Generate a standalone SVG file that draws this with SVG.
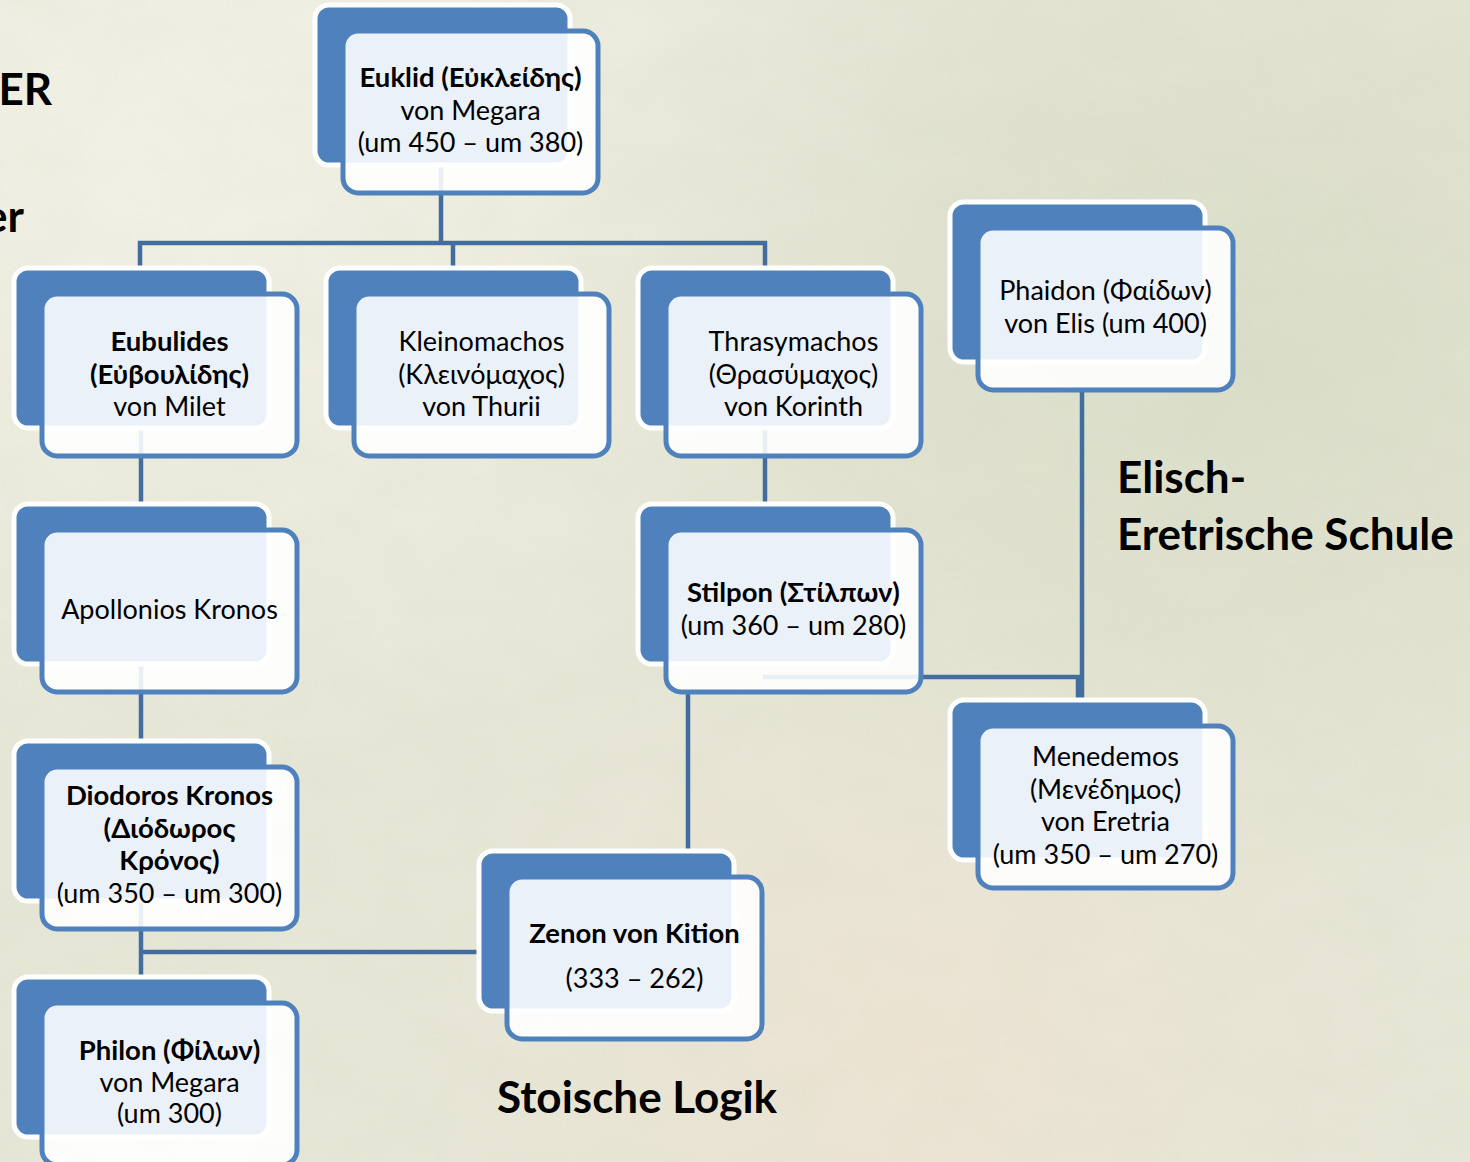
<svg xmlns="http://www.w3.org/2000/svg" width="1470" height="1162" viewBox="0 0 1470 1162">
  <defs>
    <radialGradient id="bgWarm" cx="0.12" cy="0.12" r="0.55">
      <stop offset="0" stop-color="#F3F2E7" stop-opacity="1"/>
      <stop offset="1" stop-color="#F3F2E7" stop-opacity="0"/>
    </radialGradient>
    <radialGradient id="bgGreen" cx="0.85" cy="0.3" r="0.5">
      <stop offset="0" stop-color="#D9DDC7" stop-opacity="0.9"/>
      <stop offset="1" stop-color="#D9DDC7" stop-opacity="0"/>
    </radialGradient>
    <radialGradient id="bgBlush" cx="0.62" cy="0.9" r="0.35">
      <stop offset="0" stop-color="#EFE3D3" stop-opacity="0.8"/>
      <stop offset="1" stop-color="#EFE3D3" stop-opacity="0"/>
    </radialGradient>
    <filter id="mottle" x="0" y="0" width="100%" height="100%">
      <feTurbulence type="fractalNoise" baseFrequency="0.012 0.02" numOctaves="3" seed="7"/>
      <feColorMatrix type="matrix" values="0 0 0 0 0.55  0 0 0 0 0.58  0 0 0 0 0.45  0 0 0 0.35 -0.05"/>
    </filter>
    <style>
      .back { fill: #4F81BD; stroke: #FFFFFF; stroke-width: 5; }
      .front { fill: #FFFFFF; fill-opacity: 0.89; stroke: #4F81BD; stroke-width: 5; }
      .link { fill: none; stroke: #436C9F; stroke-width: 4.5; stroke-linejoin: miter; }
      text { font-family: Lato, "Open Sans", "Noto Sans", "DejaVu Sans", sans-serif; fill: #000000; }
      .lbl { font-size: 27px; text-anchor: middle; }
      .b { font-weight: bold; font-size: 27.5px; }
      .title { font-size: 44px; font-weight: bold; }
    </style>
  </defs>

  <!-- background -->
  <rect width="1470" height="1162" fill="#E7E7D7"/>
  <rect width="1470" height="1162" fill="url(#bgWarm)"/>
  <rect width="1470" height="1162" fill="url(#bgGreen)"/>
  <rect width="1470" height="1162" fill="url(#bgBlush)"/>
  <rect width="1470" height="1162" filter="url(#mottle)" opacity="0.35"/>

  <!-- side captions -->
  <text class="title" x="52" y="105" text-anchor="end">ER</text>
  <text class="title" x="24" y="232" text-anchor="end">er</text>
  <text class="title" x="1117" y="493">Elisch-</text>
  <text class="title" x="1117" y="550">Eretrische Schule</text>
  <text class="title" x="497" y="1113">Stoische Logik</text>

  <!-- connectors -->
  <g id="connectors">
    <path class="link" d="M441,163 V243"/>
    <path class="link" d="M140,270 V243 H765 V270"/>
    <path class="link" d="M453,243 V270"/>
    <path class="link" d="M141,427 V506"/>
    <path class="link" d="M141,663 V743"/>
    <path class="link" d="M141,900 V977"/>
    <path class="link" d="M141,952 H484"/>
    <path class="link" d="M765,427 V505"/>
    <path class="link" d="M688,692 V854"/>
    <path class="link" d="M763,677 H1078 V703"/>
    <path class="link" d="M1082,391 V703"/>
  </g>

  <!-- nodes: back plate offset up-left, translucent card in front -->
  <g id="euklid" transform="translate(343,31)">
    <rect class="back" x="-28" y="-26" width="255" height="160" rx="14"/>
    <rect class="front" x="0" y="0" width="255" height="162" rx="15"/>
    <text class="lbl b" x="127.5" y="56">Euklid (Εὐκλείδης)</text>
    <text class="lbl" x="127.5" y="88.5">von Megara</text>
    <text class="lbl" x="127.5" y="121">(um 450 – um 380)</text>
  </g>

  <g id="eubulides" transform="translate(42,294)">
    <rect class="back" x="-28" y="-26" width="255" height="160" rx="14"/>
    <rect class="front" x="0" y="0" width="255" height="162" rx="15"/>
    <text class="lbl b" x="127.5" y="57">Eubulides</text>
    <text class="lbl b" x="127.5" y="89.5">(Εὐβουλίδης)</text>
    <text class="lbl" x="127.5" y="122">von Milet</text>
  </g>

  <g id="kleinomachos" transform="translate(354,294)">
    <rect class="back" x="-28" y="-26" width="255" height="160" rx="14"/>
    <rect class="front" x="0" y="0" width="255" height="162" rx="15"/>
    <text class="lbl" x="127.5" y="57">Kleinomachos</text>
    <text class="lbl" x="127.5" y="89.5">(Κλεινόμαχος)</text>
    <text class="lbl" x="127.5" y="122">von Thurii</text>
  </g>

  <g id="thrasymachos" transform="translate(666,294)">
    <rect class="back" x="-28" y="-26" width="255" height="160" rx="14"/>
    <rect class="front" x="0" y="0" width="255" height="162" rx="15"/>
    <text class="lbl" x="127.5" y="57">Thrasymachos</text>
    <text class="lbl" x="127.5" y="89.5">(Θρασύμαχος)</text>
    <text class="lbl" x="127.5" y="122">von Korinth</text>
  </g>

  <g id="phaidon" transform="translate(978,228)">
    <rect class="back" x="-28" y="-26" width="255" height="160" rx="14"/>
    <rect class="front" x="0" y="0" width="255" height="162" rx="15"/>
    <text class="lbl" x="127.5" y="72">Phaidon (Φαίδων)</text>
    <text class="lbl" x="127.5" y="104.5">von Elis (um 400)</text>
  </g>

  <g id="apollonios" transform="translate(42,530)">
    <rect class="back" x="-28" y="-26" width="255" height="160" rx="14"/>
    <rect class="front" x="0" y="0" width="255" height="162" rx="15"/>
    <text class="lbl" x="127.5" y="89">Apollonios Kronos</text>
  </g>

  <g id="stilpon" transform="translate(666,530)">
    <rect class="back" x="-28" y="-26" width="255" height="160" rx="14"/>
    <rect class="front" x="0" y="0" width="255" height="162" rx="15"/>
    <text class="lbl b" x="127.5" y="72">Stilpon (Στίλπων)</text>
    <text class="lbl" x="127.5" y="104.5">(um 360 – um 280)</text>
  </g>

  <g id="diodoros" transform="translate(42,767)">
    <rect class="back" x="-28" y="-26" width="255" height="160" rx="14"/>
    <rect class="front" x="0" y="0" width="255" height="162" rx="15"/>
    <text class="lbl b" x="127.5" y="38">Diodoros Kronos</text>
    <text class="lbl b" x="127.5" y="70.5">(Διόδωρος</text>
    <text class="lbl b" x="127.5" y="103">Κρόνος)</text>
    <text class="lbl" x="127.5" y="135.5">(um 350 – um 300)</text>
  </g>

  <g id="menedemos" transform="translate(978,726)">
    <rect class="back" x="-28" y="-26" width="255" height="160" rx="14"/>
    <rect class="front" x="0" y="0" width="255" height="162" rx="15"/>
    <text class="lbl" x="127.5" y="40">Menedemos</text>
    <text class="lbl" x="127.5" y="72.5">(Μενέδημος)</text>
    <text class="lbl" x="127.5" y="105">von Eretria</text>
    <text class="lbl" x="127.5" y="137.5">(um 350 – um 270)</text>
  </g>

  <g id="zenon" transform="translate(507,877)">
    <rect class="back" x="-28" y="-26" width="255" height="160" rx="14"/>
    <rect class="front" x="0" y="0" width="255" height="162" rx="15"/>
    <text class="lbl b" x="127.5" y="66">Zenon von Kition</text>
    <text class="lbl" x="127.5" y="111">(333 – 262)</text>
  </g>

  <g id="philon" transform="translate(42,1003)">
    <rect class="back" x="-28" y="-26" width="255" height="160" rx="14"/>
    <rect class="front" x="0" y="0" width="255" height="162" rx="15"/>
    <text class="lbl b" x="127.5" y="57">Philon (Φίλων)</text>
    <text class="lbl" x="127.5" y="89">von Megara</text>
    <text class="lbl" x="127.5" y="120">(um 300)</text>
  </g>
</svg>
